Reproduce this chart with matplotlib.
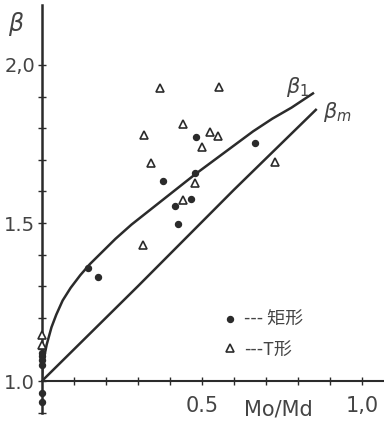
import matplotlib
matplotlib.use("Agg")
import matplotlib.pyplot as plt
from matplotlib.lines import Line2D

plt.rcParams['font.family'] = ['DejaVu Sans', 'Noto Sans CJK JP']

INK = "#2b2b2b"
TXT = "#444444"

# beta_1 curve
b1_x = [0, 0.002, 0.006, 0.015, 0.03, 0.045, 0.065, 0.09, 0.12, 0.15, 0.19, 0.23, 0.28,
        0.33, 0.38, 0.43, 0.48, 0.54, 0.60, 0.66, 0.72, 0.78, 0.847]
b1_y = [1.0, 1.04, 1.07, 1.115, 1.17, 1.21, 1.255, 1.295, 1.335, 1.37, 1.41, 1.45, 1.495,
        1.535, 1.575, 1.615, 1.655, 1.70, 1.745, 1.79, 1.83, 1.865, 1.91]

# beta_m line
bm_x = [0, 0.30, 0.60, 0.856]
bm_y = [1.0, 1.30, 1.605, 1.858]

# 矩形 (solid dots)
rect_x = [0.481, 0.666, 0.478, 0.378, 0.466, 0.416, 0.425, 0.144, 0.175, 0, 0, 0, 0, 0, 0]
rect_y = [1.772, 1.753, 1.658, 1.633, 1.575, 1.555, 1.497, 1.358, 1.33, 1.09, 1.078, 1.066, 1.05, 0.962, 0.934]

# T形 (open triangles)
t_x = [0.369, 0.553, 0.441, 0.319, 0.525, 0.55, 0.50, 0.34, 0.728, 0.478, 0.44, 0.316, 0, 0]
t_y = [1.927, 1.93, 1.813, 1.778, 1.787, 1.775, 1.741, 1.69, 1.692, 1.628, 1.573, 1.43, 1.146, 1.114]

fig = plt.figure(figsize=(3.84, 4.26), dpi=100)
ax = fig.add_axes([0.109, 0.0305, 0.891, 0.958])

ax.plot(b1_x, b1_y, color=INK, lw=1.8)
ax.plot(bm_x, bm_y, color=INK, lw=1.8)
ax.plot(rect_x, rect_y, 'o', color=INK, ms=4.3, clip_on=False, zorder=5)
ax.plot(t_x, t_y, '^', mfc='white', mec=INK, mew=1.2, ms=5.5, clip_on=False, zorder=5)

ax.set_xlim(0, 1.069)
ax.set_ylim(0.899, 2.19)

for s in ['top', 'right']:
    ax.spines[s].set_visible(False)
ax.spines['bottom'].set_position(('data', 1.0))
ax.spines['left'].set_linewidth(1.8)
ax.spines['bottom'].set_linewidth(1.5)
ax.spines['left'].set_color(INK)
ax.spines['bottom'].set_color(INK)

ax.set_xticks([0.1, 0.2, 0.3, 0.4, 0.5, 0.6, 0.7, 0.8, 0.9, 1.0])
ax.set_xticklabels(['', '', '', '', '0.5', '', '', '', '', '1,0'])
ax.set_yticks([0.9, 1.0, 1.1, 1.2, 1.3, 1.4, 1.5, 1.6, 1.7, 1.8, 1.9, 2.0])
ax.set_yticklabels(['', '1.0', '', '', '', '', '1.5', '', '', '', '', '2,0'])
ax.tick_params(direction='inout', length=6, width=1, color=INK, labelcolor=TXT, labelsize=15)
ax.tick_params(axis='x', pad=8)
ax.tick_params(axis='y', labelsize=14, pad=2)

ax.text(-0.08, 2.13, r'$\beta$', fontsize=17, color=TXT, ha='center', va='center')
ax.text(0.74, 0.91, 'Mo/Md', fontsize=15, color=TXT, ha='center', va='center')
ax.text(0.80, 1.93, r'$\beta_1$', fontsize=15, color=TXT, ha='center', va='center')
ax.text(0.923, 1.85, r'$\beta_m$', fontsize=15, color=TXT, ha='center', va='center')

handles = [Line2D([], [], ls='', marker='o', color=INK, ms=4.3),
           Line2D([], [], ls='', marker='^', mfc='white', mec=INK, mew=1.2, ms=5.5)]
ax.legend(handles, ['--- 矩形', '---T形'], frameon=False, loc='upper left',
          bbox_to_anchor=(0.48, 0.29), handlelength=0.8,
          handletextpad=0.4, labelspacing=0.65, labelcolor=TXT,
          prop={'family': ['Noto Sans CJK JP', 'DejaVu Sans'], 'size': 13})

fig.savefig("out.png", dpi=100, facecolor='white')
